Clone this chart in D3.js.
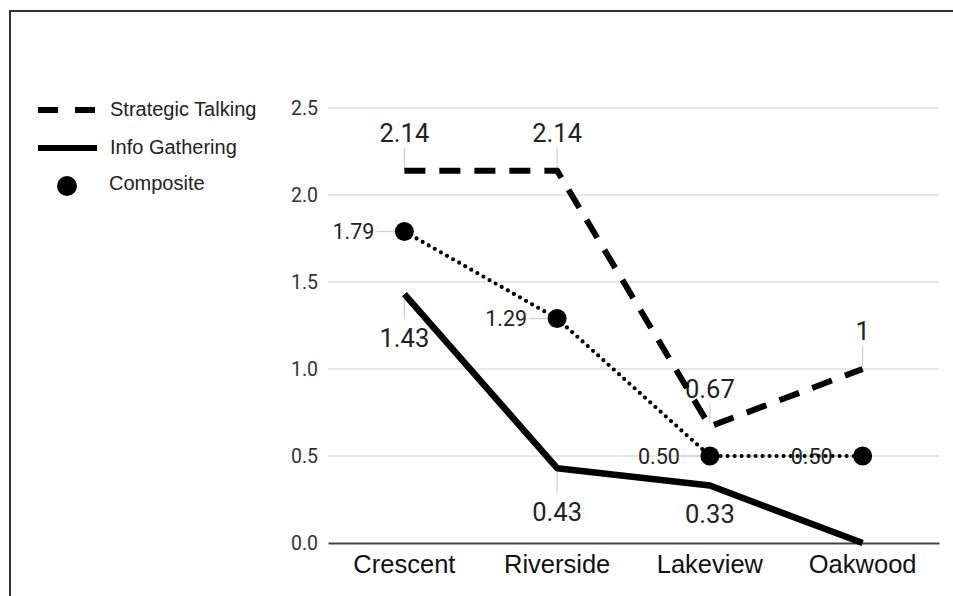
<!DOCTYPE html>
<html><head><meta charset="utf-8">
<script src="https://cdn.jsdelivr.net/npm/d3@7"></script>
<style>html,body{margin:0;padding:0;background:#fff;}svg{display:block;}</style>
</head><body>
<svg id="chart" width="953" height="596"></svg>
<script>
const categories = ["Crescent", "Riverside", "Lakeview", "Oakwood"];
const strategicTalking = [2.14, 2.14, 0.67, 1];
const strategicLabels = ["2.14", "2.14", "0.67", "1"];
const infoGathering = [1.43, 0.43, 0.33, 0];
const infoLabels = ["1.43", "0.43", "0.33", ""];
const composite = [1.79, 1.29, 0.50, 0.50];
const compositeLabels = ["1.79", "1.29", "0.50", "0.50"];
const yTicks = [0, 0.5, 1.0, 1.5, 2.0, 2.5];
const legendItems = ["Strategic Talking", "Info Gathering", "Composite"];

const svg = d3.select("#chart");
const W = 953, H = 596;
const plot = {left: 328, right: 939, top: 108, bottom: 543};

// frame (top and left border)
svg.append("path").attr("d", `M10,${H} L10,11 L${W},11`)
  .attr("fill", "none").attr("stroke", "#333").attr("stroke-width", 2);

const x = d3.scaleBand().domain(categories).range([plot.left, plot.right]);
const cx = c => x(c) + x.bandwidth() / 2;
const y = d3.scaleLinear().domain([0, 2.5]).range([plot.bottom, plot.top]);

// gridlines
svg.append("g").selectAll("line").data(yTicks.filter(t => t > 0)).join("line")
  .attr("x1", plot.left).attr("x2", plot.right)
  .attr("y1", d => y(d)).attr("y2", d => y(d))
  .attr("stroke", "#cfcfcf").attr("stroke-width", 1.2);

// y axis labels
const yAxis = d3.axisLeft(y).tickValues(yTicks).tickFormat(d3.format(".1f")).tickSize(0).tickPadding(10);
const yg = svg.append("g").attr("transform", `translate(${plot.left},0)`).call(yAxis);
yg.select(".domain").remove();
yg.selectAll("text").attr("font-family", "Roboto").attr("font-size", 19.5).attr("fill", "#333");

// x axis baseline + labels
const xAxis = d3.axisBottom(x).tickSize(0).tickPadding(12);
const xg = svg.append("g").attr("transform", `translate(0,${plot.bottom})`).call(xAxis);
xg.select(".domain").attr("stroke", "#444").attr("stroke-width", 2);
xg.selectAll("text").attr("font-family", "Liberation Sans, Arial").attr("font-size", 25.5).attr("fill", "#111");

const line = d3.line().x((d, i) => cx(categories[i])).y(d => y(d));

// leader lines
const leaders = svg.append("g").attr("stroke", "#d0d0d0").attr("stroke-width", 1.2);
strategicTalking.forEach((v, i) => {
  const px = cx(categories[i]), py = y(v);
  leaders.append("line").attr("x1", px).attr("x2", px).attr("y1", py - 2).attr("y2", py - 23);
});
infoGathering.forEach((v, i) => {
  if (!infoLabels[i]) return;
  const px = cx(categories[i]), py = y(v);
  const ly = Math.min(py + 44, 514);
  if (ly - py > 34) leaders.append("line").attr("x1", px).attr("x2", px).attr("y1", py + 4).attr("y2", ly - 19);
});
composite.forEach((v, i) => {
  const px = cx(categories[i]), py = y(v);
  leaders.append("line").attr("x1", px - 28).attr("x2", px - 8).attr("y1", py).attr("y2", py);
});

// series lines
svg.append("path").datum(infoGathering).attr("d", line)
  .attr("fill", "none").attr("stroke", "#000").attr("stroke-width", 6.5).attr("stroke-linejoin", "round");

// labels
const labels = svg.append("g").attr("font-family", "Roboto").attr("fill", "#222");
strategicTalking.forEach((v, i) => {
  labels.append("text").attr("x", cx(categories[i])).attr("y", y(v) - 38)
    .attr("dy", "0.36em").attr("text-anchor", "middle").attr("font-size", 25.5).text(strategicLabels[i]);
});
infoGathering.forEach((v, i) => {
  if (!infoLabels[i]) return;
  const py = y(v);
  labels.append("text").attr("x", cx(categories[i])).attr("y", Math.min(py + 44, 514))
    .attr("dy", "0.36em").attr("text-anchor", "middle").attr("font-size", 25.5).text(infoLabels[i]);
});
composite.forEach((v, i) => {
  labels.append("text").attr("x", cx(categories[i]) - 30).attr("y", y(v))
    .attr("dy", "0.36em").attr("text-anchor", "end").attr("font-size", 21.5).text(compositeLabels[i]);
});

svg.append("path").datum(strategicTalking).attr("d", line)
  .attr("fill", "none").attr("stroke", "#000").attr("stroke-width", 6)
  .attr("stroke-dasharray", "21 14");

svg.append("path").datum(composite).attr("d", line)
  .attr("fill", "none").attr("stroke", "#000").attr("stroke-width", 4.2)
  .attr("stroke-linecap", "round").attr("stroke-dasharray", "0 7");

svg.append("g").selectAll("circle").data(composite).join("circle")
  .attr("cx", (d, i) => cx(categories[i])).attr("cy", d => y(d)).attr("r", 9.5).attr("fill", "#000");

// legend
const lg = svg.append("g");
const legY = [110, 148, 186];
lg.append("line").attr("x1", 38).attr("x2", 97).attr("y1", legY[0]).attr("y2", legY[0])
  .attr("stroke", "#000").attr("stroke-width", 6).attr("stroke-dasharray", "20 17");
lg.append("line").attr("x1", 38).attr("x2", 97).attr("y1", legY[1]).attr("y2", legY[1])
  .attr("stroke", "#000").attr("stroke-width", 6);
lg.append("circle").attr("cx", 67).attr("cy", legY[2]).attr("r", 10).attr("fill", "#000");
lg.selectAll("text").data(legendItems).join("text")
  .attr("x", (d, i) => i === 2 ? 109 : 110).attr("y", (d, i) => legY[i] - (i === 2 ? 3 : 1))
  .attr("dy", "0.36em").attr("font-family", "Liberation Sans, Arial").attr("font-size", 20)
  .attr("fill", "#222").text(d => d);
</script>
</body></html>
